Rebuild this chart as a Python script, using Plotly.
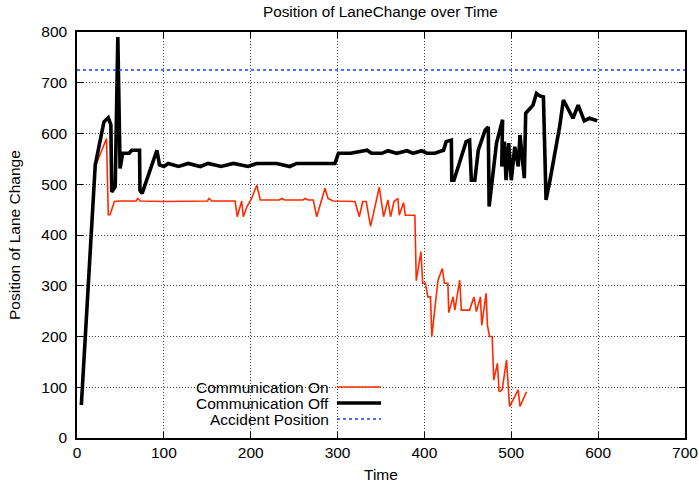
import plotly.graph_objects as go

# Communication On (red)
on_x = [5, 21, 34, 36, 38, 43, 50, 68, 70, 73, 100, 120, 150, 152, 155, 182, 184.5, 189.6, 191.5, 196,
        201, 207, 211, 233, 236, 239, 260, 263, 266, 272, 276, 285.5, 289, 295, 316, 320, 325, 329, 333,
        338, 348, 353, 358, 361, 365, 369.5, 371, 376, 378, 389, 390.6, 396, 398, 401, 404, 407, 408.5,
        415.6, 420.6, 423, 427, 428, 433, 435, 440.6, 442.5, 452, 457, 459.8, 464.5, 466, 471, 472.5,
        475, 478, 479.8, 484, 486, 489.5, 494.5, 498, 508, 510, 517.5]
on_y = [65, 535, 590, 440, 440, 466, 467, 467, 472, 467, 466, 467, 467, 472, 467, 467, 436, 467, 436, 457,
        472, 498, 469, 469, 472, 469, 469, 472, 469, 469, 436, 492, 472, 467, 467, 466, 436, 466, 466,
        417, 494, 436, 469, 436, 466, 472, 439, 464, 439, 439, 310, 367, 305, 305, 278, 278, 200,
        311, 334, 305, 305, 247, 278, 252, 311, 252, 252, 278, 249, 278, 222, 285, 222,
        200, 200, 114, 147, 91, 95, 154, 62, 95, 62, 91]

# Communication Off (black)
off_x = [5, 21, 31, 36, 39, 40, 44, 47, 49.6, 52.6, 60, 63, 72, 72.5, 75, 91, 92, 95, 100, 105, 117, 128,
         142, 151, 166, 180, 197, 207, 230, 245, 253, 297, 301, 315, 328, 334, 339, 351, 358, 368, 380,
         387, 397, 403, 412, 422, 425, 431, 431.5, 434, 448, 452, 454, 458, 462, 470, 473.5, 474.5, 483,
         490, 489, 492, 494, 497, 500, 504, 508, 510, 515, 516.6, 525, 529, 533, 537, 540, 544.6, 555.6,
         560, 571, 577, 584, 590, 599]
off_y = [65, 538, 623, 631, 617, 485, 495, 790, 531, 561, 561, 567, 567, 488, 482, 567, 567, 538, 535, 541,
         535, 541, 535, 541, 535, 541, 535, 541, 541, 535, 541, 541, 561, 561, 566, 567, 561, 561, 566,
         561, 566, 561, 566, 561, 561, 567, 584, 587, 508, 508, 584, 587, 508, 508, 567, 607, 613, 456,
         581, 627, 535, 584, 508, 581, 508, 574, 535, 597, 512, 640, 656, 679, 674, 672, 469, 508, 613,
         666, 630, 656, 625, 630, 625]

# Accident Position (blue dotted)
acc_x = [0, 700]
acc_y = [725, 725]

series_names = ["Communication On", "Communication Off", "Accident Position"]
x_ticks = [0, 100, 200, 300, 400, 500, 600, 700]
y_ticks = [0, 100, 200, 300, 400, 500, 600, 700, 800]

FONT = "Liberation Sans, Arial, Helvetica, sans-serif"
FS = 15.5
RED = "#ff2a00"
BLUE = "#1a3cff"

fig = go.Figure()
fig.add_trace(go.Scatter(x=on_x, y=on_y, mode="lines", name=series_names[0],
                         line=dict(color=RED, width=1.6), showlegend=False))
fig.add_trace(go.Scatter(x=off_x, y=off_y, mode="lines", name=series_names[1],
                         line=dict(color="black", width=3.6), showlegend=False))
fig.add_trace(go.Scatter(x=acc_x, y=acc_y, mode="lines", name=series_names[2],
                         line=dict(color=BLUE, width=1.6, dash="3px,3px"), showlegend=False))

W, H = 699, 488
# plot area edges in page pixels
PL, PR, PT, PB = 77, 685, 32, 438
L, R, T, B = PL, W - PR, PT, H - PB
pw, ph = PR - PL, PB - PT

def px2paper(px, py):
    return (px - PL) / pw, (PB - py) / ph

shapes = []
annotations = []
# custom gnuplot-style legend (text right aligned, sample to the right)
x0, y0 = px2paper(190, 378)
x1, y1 = px2paper(388, 428)
shapes.append(dict(type="rect", xref="paper", yref="paper", x0=x0, x1=x1, y0=y1, y1=y0,
                   fillcolor="white", line=dict(width=0), layer="between"))
leg_rows = [(387, series_names[0], dict(color=RED, width=1.6)),
            (403, series_names[1], dict(color="black", width=3.6)),
            (419, series_names[2], dict(color=BLUE, width=1.6, dash="3px,3px"))]
for py, name, ln in leg_rows:
    tx, ty = px2paper(331, py)
    annotations.append(dict(xref="paper", yref="paper", x=tx, y=ty, text=name, showarrow=False,
                            xanchor="right", yanchor="middle", font=dict(family=FONT, size=FS, color="black")))
    sx0, sy = px2paper(337, py)
    sx1, _ = px2paper(381, py)
    shapes.append(dict(type="line", xref="paper", yref="paper", x0=sx0, x1=sx1, y0=sy, y1=sy,
                       line=ln, layer="above"))

# axis titles placed as text
tx, ty = px2paper(381, 474)
annotations.append(dict(xref="paper", yref="paper", x=tx, y=ty, text="Time", showarrow=False,
                        xanchor="center", yanchor="middle", font=dict(family=FONT, size=FS, color="black")))
tx, ty = px2paper(14, 235)
annotations.append(dict(xref="paper", yref="paper", x=tx, y=ty, text="Position of Lane Change", showarrow=False,
                        textangle=-90, xanchor="center", yanchor="middle",
                        font=dict(family=FONT, size=FS, color="black")))
# title
tx, ty = px2paper(380, 11)
annotations.append(dict(xref="paper", yref="paper", x=tx, y=ty, text="Position of LaneChange over Time",
                        showarrow=False, xanchor="center", yanchor="middle",
                        font=dict(family=FONT, size=15.3, color="black")))

axis_common = dict(showline=True, linecolor="black", linewidth=1.5, mirror="allticks",
                   ticks="inside", ticklen=6, tickwidth=1, tickcolor="black",
                   showgrid=True, gridcolor="#444444", gridwidth=1, griddash="1px,2px",
                   zeroline=False, automargin=False, layer="below traces",
                   tickfont=dict(family=FONT, size=FS, color="black"))

fig.update_layout(
    width=W, height=H,
    margin=dict(l=L, r=R, t=T, b=B, autoexpand=False),
    paper_bgcolor="white", plot_bgcolor="white",
    xaxis=dict(range=[0, 700], tickvals=x_ticks, ticktext=[str(v) for v in x_ticks], **axis_common),
    yaxis=dict(range=[0, 800], tickvals=y_ticks, ticktext=[str(v) for v in y_ticks],
               ticklabelstandoff=5, **axis_common),
    shapes=shapes, annotations=annotations,
)

fig.write_html("out.html", config={"displayModeBar": False},
               post_script="document.body.style.margin='0';document.body.style.overflow='hidden';")
